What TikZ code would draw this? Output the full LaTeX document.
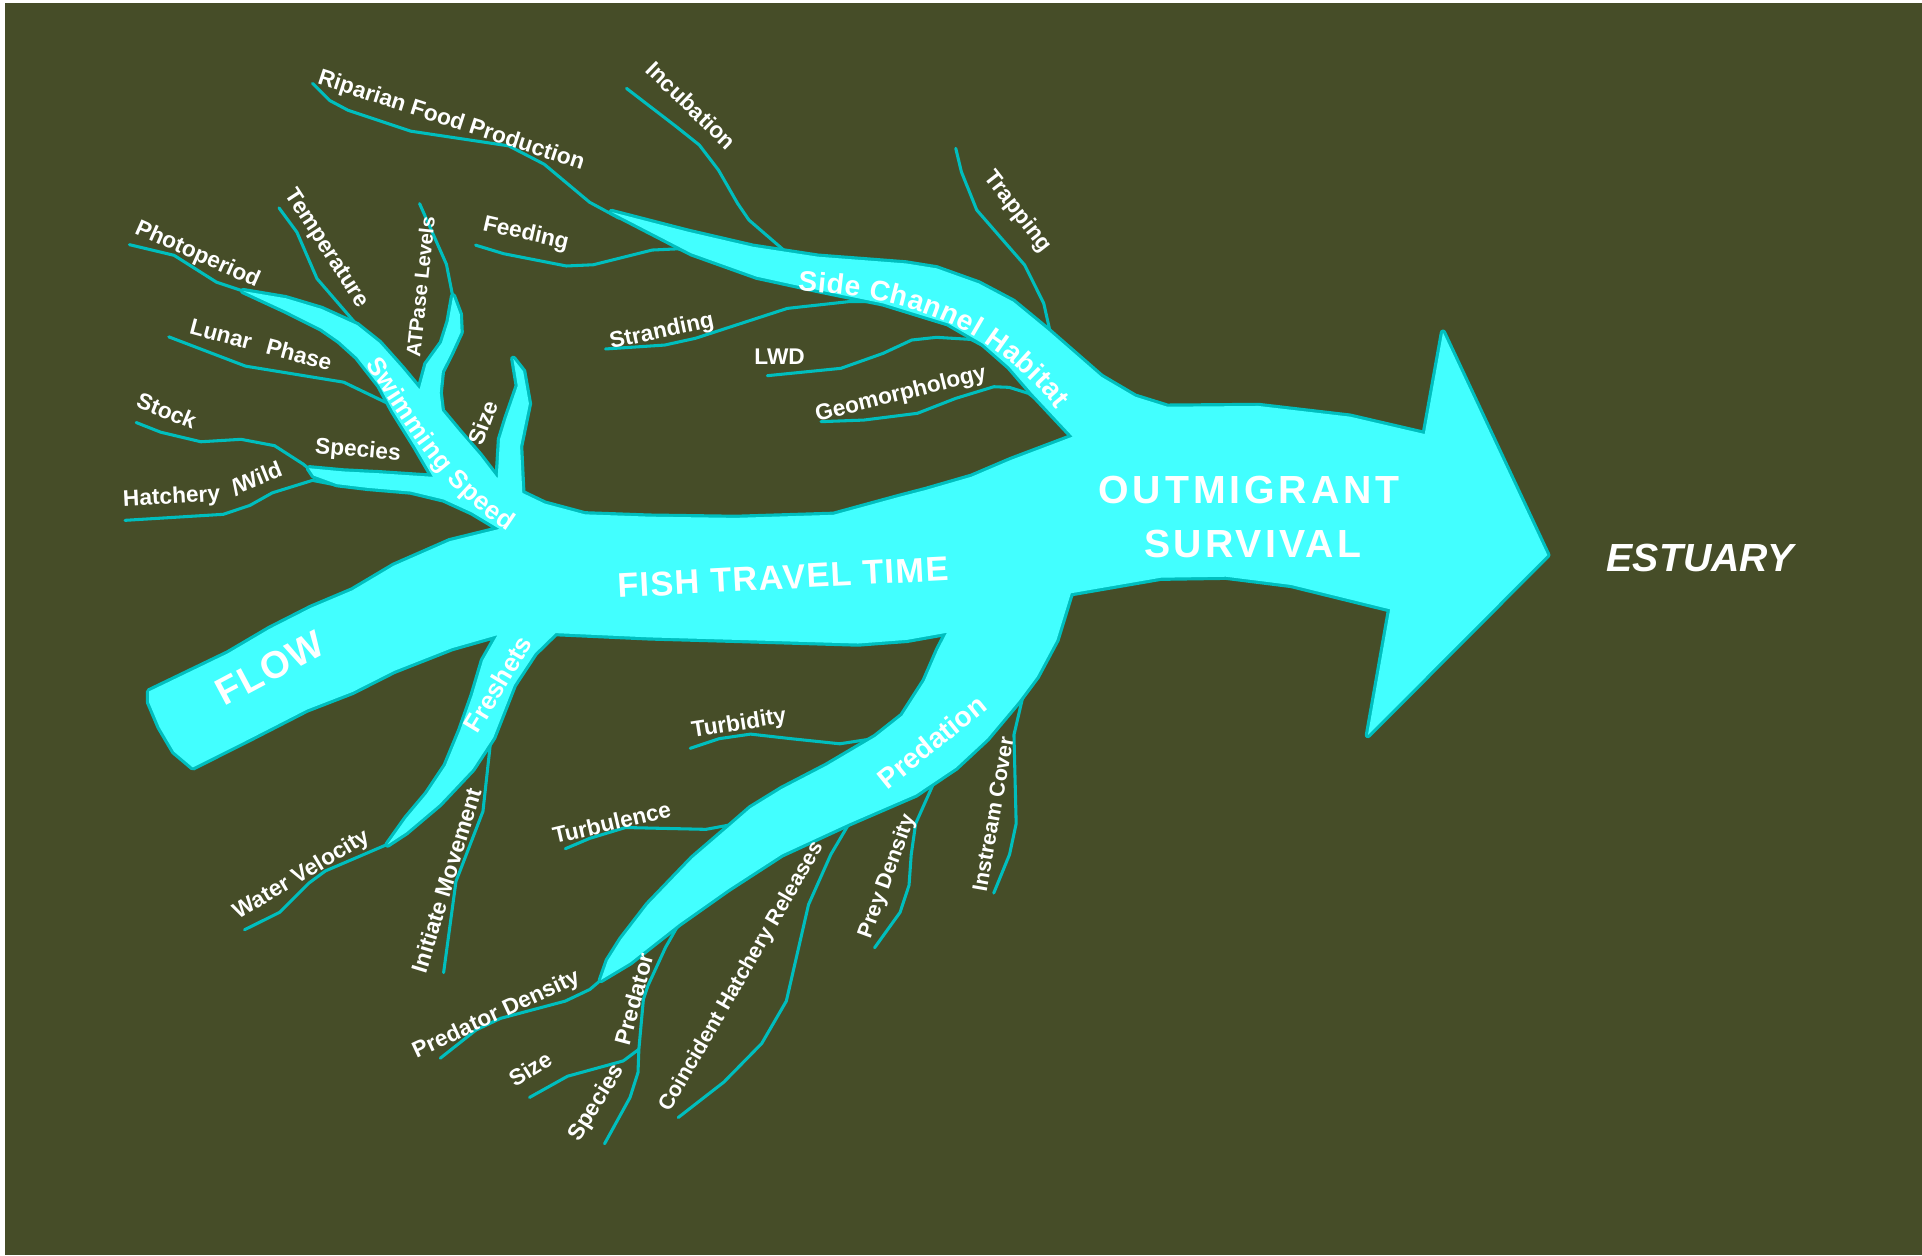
\documentclass[tikz,border=0pt]{standalone}
\usepackage{fontspec}
\setmainfont{Liberation Sans}
\usetikzlibrary{decorations.text}
\definecolor{bg}{RGB}{70,77,40}
\definecolor{aqua}{RGB}{66,255,255}
\definecolor{tealline}{RGB}{0,190,190}
\begin{document}
\begin{tikzpicture}[x=1pt,y=-1pt,
  lbl/.style={text=white, font=\bfseries\fontsize{18.5}{18.5}\selectfont, inner sep=0pt},
  big/.style={text=white, font=\bfseries\fontsize{#1}{#1}\selectfont, inner sep=0pt},
  fline/.style={draw=tealline, line width=2.5pt, line join=round, line cap=round},
  bodyline/.style={draw=tealline, line width=5.2pt, line join=round}]
\fill[white] (0,0) rectangle (1568,1024);
\fill[bg] (4,2.5) rectangle (1568,1024);
\useasboundingbox (0,0) rectangle (1568,1024);

\def\bodypath{(121.7,564.0) -- (186,533) -- (219.8,513.1) -- (253.6,495.9) -- (287.5,481.6) -- (321.3,461.5) -- (366.9,441.5) -- (407.5,431.5)
-- (385,418) -- (362,407.5) -- (335,401) -- (300,398) -- (275,395) -- (256,388) -- (252,382)
-- (280,384.6) -- (309.5,386.1) -- (353.2,389.0)
-- (338.7,364.2) -- (320.5,335.1) -- (309.5,314.7) -- (291.3,291.4) -- (276.8,278.3) -- (262.2,268.1) -- (233.1,253.5) -- (198.5,237.5)
-- (233.1,243.3) -- (262.2,252.0) -- (291.3,265.2) -- (309.5,279.7) -- (327.7,300.1) -- (342.3,317.6)
-- (347.8,297.2) -- (360.5,279.7) -- (366.0,262.2) -- (369.6,241.8)
-- (375.1,256.4) -- (375.8,271.0) -- (367.8,288.5) -- (360.5,303.0) -- (358.7,320.5) -- (360.5,335.1)
-- (375.1,352.6) -- (391.5,371.5) -- (406.0,390.4)
-- (407.9,358.4) -- (413.3,340.9) -- (422.4,314.7) -- (418.8,292.8)
-- (426.8,303.0) -- (431.5,329.3) -- (424.3,364.2) -- (426.1,402.1) -- (444.3,410.8) -- (477.1,419.6)
-- (530,421.5) -- (600,422.5) -- (680,420) -- (734.2,405.2) -- (755.4,399.7) -- (792.7,388.9) -- (824.6,375.3) -- (875.1,356.2)
-- (842.1,320.9) -- (823.3,299.2) -- (801.5,280.1) -- (773.4,263.8) -- (720.4,247.5) -- (667.2,236.6) -- (617.3,225.7) -- (564.2,206.7) -- (499,173)
-- (561.1,189) -- (614.2,201.3) -- (667.2,209.4) -- (739,214.9) -- (764,218.9) -- (798.4,231.2) -- (826.5,246.1) -- (854.6,269.2) -- (898.3,307.3) -- (926,323.6) -- (952.3,331.8) -- (1026.7,331.2) -- (1101.2,339.9) -- (1162.3,354.1)
-- (1177.2,271.4) -- (1262.3,452.8) -- (1116,599.6) -- (1134.1,497.1)
-- (1053.3,477.2) -- (1000.1,470.5) -- (947,471.3) -- (873.6,484.0)
-- (861.9,522.1) -- (845.9,552.0) -- (831,572) -- (805.3,602.6) -- (779.8,626.3) -- (747.0,648.3) -- (692.4,671.9) -- (637.8,697.1) -- (594.1,725.4) -- (554.0,753.7) -- (514.0,785.2) -- (490.3,799.4)
-- (495.8,783.7) -- (506.7,766.4) -- (528.6,738.0) -- (564.9,700.2) -- (594.1,675.1) -- (612.3,659.3) -- (637.8,643.6) -- (674.2,624.7) -- (714.2,601.1) -- (736.1,583.8) -- (754.3,555.5) -- (765.2,530.3) -- (772.5,516.2)
-- (740,522) -- (700,525) -- (600,522) -- (530,520) -- (453.2,516.5)
-- (436.3,533.0) -- (419.3,558.8) -- (402.4,601.7) -- (385.5,627.5) -- (358.5,656.1) -- (331.4,679.0) -- (316.2,689.0)
-- (331.4,667.6) -- (348.3,647.5) -- (363.5,624.7) -- (375.4,596.0) -- (385.5,567.4) -- (394.0,538.8) -- (405.8,518.2)
-- (368.6,528.8) -- (321.3,547.4) -- (287.5,564.5) -- (250.3,578.9) -- (202.9,603.2) -- (157.3,626.1)
-- (148.8,618.9) -- (142.0,613.2) -- (130.2,593.2) -- (121.7,573.1) -- cycle}

% factor lines
\draw[fline] (255,68) -- (269,82) -- (284,90) -- (335,107) -- (415,119) -- (444,134) -- (481,165) -- (505,178);
\draw[fline] (511.1,72.1) -- (551.7,103.3) -- (570.5,118.3) -- (586.1,138.7) -- (601.7,165.9) -- (611.0,179.5) -- (644,208);
\draw[fline] (779.7,121.0) -- (784.3,140.1) -- (796.8,171.3) -- (835.9,216.2) -- (851.5,247.5) -- (857,272);
\draw[fline] (388,200) -- (411,207) -- (462,217) -- (484,216) -- (532,204) -- (553,203) -- (575,209);
\draw[fline] (494.0,284.7) -- (542.3,281.5) -- (567.3,276.0) -- (642.3,251.6) -- (692.2,246.1) -- (717.2,246.1) -- (730,250);
\draw[fline] (626.0,306.5) -- (686.0,300.5) -- (720.4,288.3) -- (743.8,277.4) -- (764.0,275.2) -- (792.1,276.9) -- (802,282);
\draw[fline] (669.8,344.0) -- (704.7,342.7) -- (748.4,337.2) -- (779.7,325.0) -- (810.8,315.5) -- (823.3,316.0) -- (839.0,320.9) -- (846,326);
\draw[fline] (105.6,199.6) -- (142.0,208.3) -- (176.6,230.2) -- (200,238);
\draw[fline] (227.6,169.6) -- (242.2,189.4) -- (258.6,227.3) -- (291.3,265.2) -- (296,272);
\draw[fline] (342.3,166.1) -- (364.2,215.6) -- (370,245);
\draw[fline] (137.7,274.8) -- (200.3,298.7) -- (280.4,311.8) -- (316.8,329.3) -- (322,333);
\draw[fline] (111.1,344.7) -- (131.1,352.6) -- (163.9,360.4) -- (196.6,358.4) -- (224.0,363.6) -- (247.6,378.8) -- (256,386);
\draw[fline] (102.0,424.5) -- (134.7,422.5) -- (182.1,419.6) -- (203.9,412.3) -- (222.1,402.1) -- (254.9,391.9) -- (276,396);
\draw[fline] (318,688) -- (265.5,710.5) -- (251.9,720.5) -- (228.3,744.2) -- (199.5,758.5);
\draw[fline] (401,598) -- (394.0,661.9) -- (372.0,719.0) -- (361.9,793.5);
\draw[fline] (563.1,610.5) -- (586.8,602.6) -- (612.3,598.9) -- (645.1,602.6) -- (685.1,606.8) -- (712.4,602.6) -- (722,599);
\draw[fline] (461.2,692.4) -- (481.2,683.9) -- (510.3,675.1) -- (575.9,676.6) -- (601.3,671.9) -- (612,667);
\draw[fline] (492,798) -- (481.2,807.2) -- (461.2,816.7) -- (408.3,830.8) -- (388.3,840.3) -- (359.2,863.3);
\draw[fline] (556,750) -- (543.1,772.6) -- (528.6,804.1) -- (524.9,815.2) -- (521.2,856.0) -- (520.5,874.9) -- (514.0,895.3) -- (493.2,933.1);
\draw[fline] (521.2,856.0) -- (508.5,865.5) -- (463.0,878.0) -- (432.0,895.3);
\draw[fline] (695,668) -- (677.8,697.1) -- (659.6,738.0) -- (641.5,816.7) -- (621.4,851.3) -- (590.5,882.8) -- (553.3,911.7);
\draw[fline] (763,636) -- (747.0,671.9) -- (743.4,697.1) -- (741.6,722.2) -- (734.3,744.3) -- (725.2,756.9) -- (713.5,773.2);
\draw[fline] (835,566) -- (827.2,599.5) -- (829.0,671.9) -- (823.6,697.1) -- (810.7,728.6);

% body
\draw[bodyline] \bodypath;
\fill[aqua] \bodypath;

% factor labels
\node[lbl, rotate=-18] (riparian) at (368,99) {Riparian Food Production};
\node[lbl, rotate=-44] (incub) at (564,86) {Incubation};
\node[lbl, rotate=-52] (trap) at (830,173) {Trapping};
\node[lbl, rotate=-13] (feed) at (429,191) {Feeding};
\node[lbl, rotate=12] (strand) at (540,271) {Stranding};
\node[lbl] (lwd) at (636,291) {LWD};
\node[lbl, rotate=14] (geo) at (735,322) {Geomorphology};
\node[lbl, rotate=-24] (photo) at (161,208) {Photoperiod};
\node[lbl, rotate=-57] (temp) at (266,203) {Temperature};
\node[lbl, rotate=84, font=\bfseries\fontsize{16.5}{16.5}\selectfont] (atp) at (343,234) {ATPase Levels};
\node[lbl, rotate=-15] (lunar) at (213,281) {Lunar\hspace{0.7em}Phase};
\node[lbl, rotate=-22] (stock) at (136,335) {Stock};
\node[lbl, rotate=-5] (species1) at (292,368) {Species};
\node[lbl, rotate=3] (hatch) at (140,406) {Hatchery};
\node[lbl, rotate=22] (wild) at (211,389) {Wild};
\node[lbl, rotate=22] (slash) at (192,398) {/};
\node[lbl, rotate=70] (size1) at (394,345) {Size};
\node[lbl, rotate=31] (water) at (246,714) {Water Velocity};
\node[lbl, rotate=73] (init) at (364,718) {Initiate Movement};
\node[lbl, rotate=9] (turbid) at (603,591) {Turbidity};
\node[lbl, rotate=13] (turbul) at (499,671) {Turbulence};
\node[lbl, rotate=25] (pdens) at (405,828) {Predator Density};
\node[lbl, rotate=75] (pred) at (517,815) {Predator};
\node[lbl, rotate=32] (size2) at (433,872) {Size};
\node[lbl, rotate=58] (species2) at (487,900) {Species};
\node[lbl, rotate=60, font=\bfseries\fontsize{17.5}{17.5}\selectfont] (coinc) at (605,797) {Coincident Hatchery Releases};
\node[lbl, rotate=70, font=\bfseries\fontsize{17.5}{17.5}\selectfont] (prey) at (724,715) {Prey Density};
\node[lbl, rotate=80, font=\bfseries\fontsize{17.5}{17.5}\selectfont] (instream) at (810,664) {Instream Cover};

% branch labels
\node[big=31, rotate=28] (flow) at (220,545) {\addfontfeature{LetterSpace=4}FLOW};
\node[big=28, rotate=3] (ftt) at (639,471) {\addfontfeature{LetterSpace=4}FISH TRAVEL TIME};
\node[big=21, rotate=59] (freshets) at (406,558) {Freshets};
\node[big=23, rotate=39] (predation) at (760,605) {Predation};
\node[big=32] (outm) at (1019,400) {\addfontfeature{LetterSpace=10}OUTMIGRANT};
\node[big=32] (surv) at (1022,444) {\addfontfeature{LetterSpace=8}SURVIVAL};
\node[text=white, font=\bfseries\itshape\fontsize{32}{32}\selectfont, inner sep=0pt] (estuary) at (1387,455) {ESTUARY};

\path[decorate, decoration={text along path, text align={fit to path},
  text={|\bfseries\fontsize{23}{23}\selectfont\color{white}|Side Channel Habitat}}]
  (651,237) .. controls (740,243) and (805,263) .. (862,334);
\path[decorate, decoration={text along path, text align={fit to path},
  text={|\bfseries\fontsize{21}{21}\selectfont\color{white}|Swimming Speed}}]
  (298,297) .. controls (330,345) and (355,395) .. (414,433);
\end{tikzpicture}
\end{document}
